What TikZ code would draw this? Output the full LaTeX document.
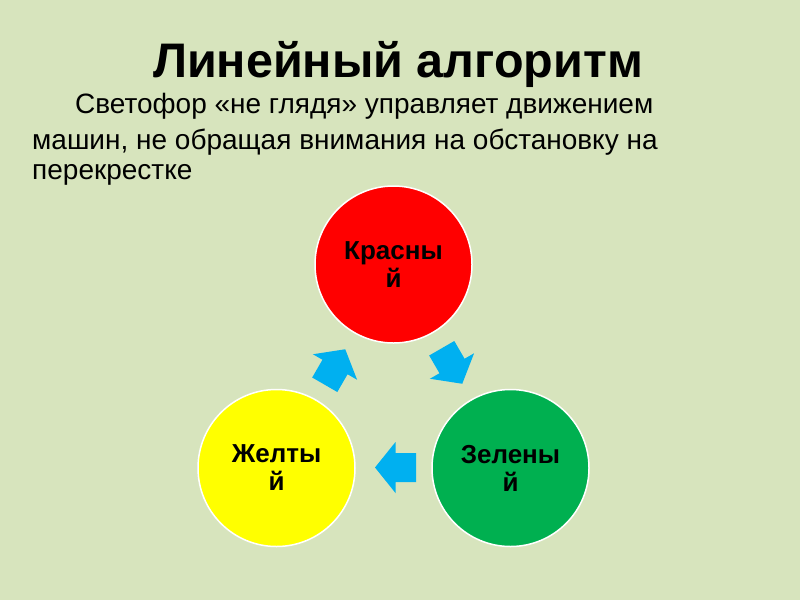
\documentclass[tikz,border=0pt]{standalone}
\usepackage{fontspec}
\setmainfont{Liberation Sans}
\definecolor{bgc}{HTML}{D7E4BD}
\definecolor{redc}{HTML}{FF0000}
\definecolor{yelc}{HTML}{FFFF00}
\definecolor{grnc}{HTML}{00B050}
\definecolor{arrc}{HTML}{00B0F0}
\tikzset{
  lamp/.style={circle, draw=white, line width=1.5pt, minimum size=157pt, inner sep=0pt,
    align=center, font=\bfseries\fontsize{26}{28}\selectfont, text=black},
  txtline/.style={anchor=base west, inner sep=0pt, font=\fontsize{28}{30}\selectfont},
  blockarrow/.style={fill=arrc, draw=none}
}
\newcommand{\blockarr}{(20.5,0) -- (0,25.5) -- (0,14.5) -- (-20.5,14.5) -- (-20.5,-14.5) -- (0,-14.5) -- (0,-25.5) -- cycle}
\begin{document}
\begin{tikzpicture}[x=1pt,y=-1pt]
\fill[bgc] (0,0) rectangle (800,600);
\useasboundingbox (0,0) rectangle (800,600);

\node[anchor=base, inner sep=0pt, font=\bfseries\fontsize{48.5}{50}\selectfont] (title) at (398,77) {Линейный алгоритм};
\node[txtline] (l1) at (75,113) {Светофор «не глядя» управляет движением};
\node[txtline] (l2) at (32,149) {машин, не обращая внимания на обстановку на};
\node[txtline] (l3) at (32,179) {перекрестке};

\node[lamp, fill=redc] (red) at (393.5,264.5) {Красны\\й};
\node[lamp, fill=yelc] (yellow) at (276.5,468) {Желты\\й};
\node[lamp, fill=grnc] (green) at (510.5,468) {Зелены\\й};

\begin{scope}[shift={(395.5,467.5)}, rotate=180]
  \fill[blockarrow] \blockarr;
\end{scope}
\begin{scope}[shift={(335,367)}, rotate=60]
  \fill[blockarrow] \blockarr;
\end{scope}
\begin{scope}[shift={(452,366)}, rotate=-60]
  \fill[blockarrow] \blockarr;
\end{scope}
\end{tikzpicture}
\end{document}
